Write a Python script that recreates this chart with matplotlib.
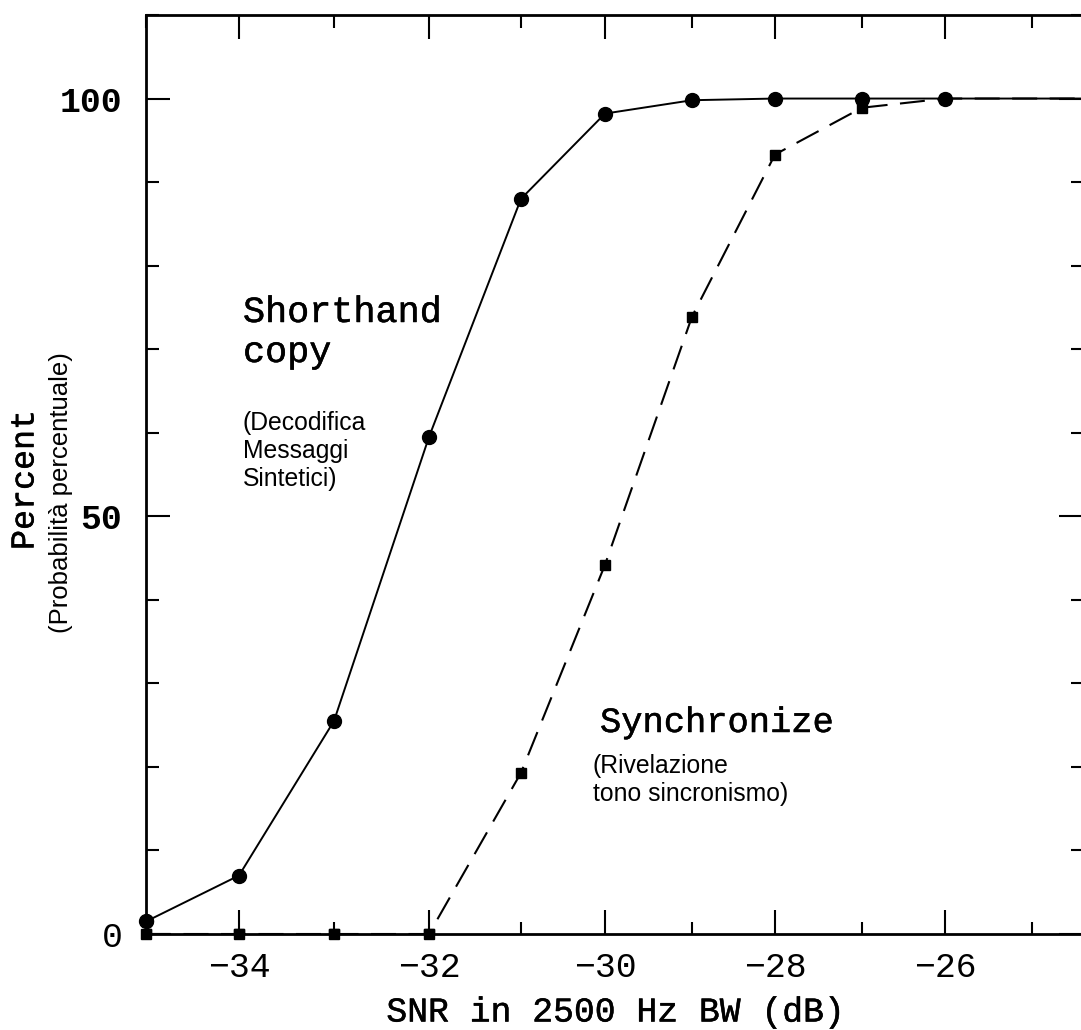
import matplotlib
matplotlib.use("Agg")
import matplotlib.pyplot as plt
import matplotlib.patheffects as pe
import numpy as np
from matplotlib.ticker import MultipleLocator, FixedLocator

# ---- data ----
snr = [-35, -34, -33, -32, -31, -30, -29, -28, -27, -26, -24]
shorthand = [1.5, 7, 25.5, 59.5, 88, 98.2, 99.8, 100, 100, 100, 100]
synchronize = [0, 0, 0, 0, 19.3, 44.2, 73.9, 93.3, 98.9, 100, 100]

xticks = [-34, -32, -30, -28, -26]
yticks = [0, 50, 100]

# the scanned original's x axis is slightly non-uniform: relative tick spacing
scale_vals = [-36, -35, -34, -33, -32, -31, -30, -29, -28, -27, -26, -25, -23]
scale_pos = [53, 146, 239, 334, 429, 521, 605, 692, 775, 862, 945, 1032, 1206]

W, H = 1081, 1030
fig = plt.figure(figsize=(W / 100, H / 100), dpi=100)

def fx(x):
    return x / W

def fy(y):
    return 1 - y / H

ax = fig.add_axes([fx(146), fy(934), fx(1083 - 146), (934 - 15) / H])

def fwd(x):
    return np.interp(x, scale_vals, scale_pos)

def inv(p):
    return np.interp(p, scale_pos, scale_vals)

ax.set_xscale("function", functions=(fwd, inv))
ax.set_xlim(-35, float(inv(1083)))
ax.set_ylim(0, 110)

mono = "Liberation Mono"
sans = "Liberation Sans"
thick = [pe.withStroke(linewidth=0.35, foreground="black")]

ax.plot(snr, shorthand, color="black", lw=1.4, marker="o", ms=10,
        mfc="black", mec="black", zorder=3)
ax.plot(snr, synchronize, color="black", lw=1.5, dashes=(12, 6),
        marker="s", ms=6.5, mfc="black", mec="black", zorder=3)
ax.plot(snr[:4], synchronize[:4], ls="none", marker="s", ms=6.5,
        color="black", clip_on=False, zorder=4)
ax.plot(snr[:1], shorthand[:1], ls="none", marker="o", ms=10,
        color="black", clip_on=False, zorder=4)

for s in ax.spines.values():
    s.set_linewidth(2)

ax.xaxis.set_major_locator(FixedLocator(xticks))
ax.xaxis.set_minor_locator(FixedLocator(list(range(-35, -24))))
ax.yaxis.set_major_locator(FixedLocator(yticks))
ax.yaxis.set_minor_locator(MultipleLocator(10))

ax.tick_params(which="both", direction="in", top=True, right=True, width=1.5)
ax.tick_params(which="major", length=17)
ax.tick_params(which="minor", length=9)
ax.tick_params(axis="x", which="major", pad=12)
ax.tick_params(axis="y", which="major", pad=17)

ax.set_xticklabels(["\u2212" + str(-t) for t in xticks], fontfamily=mono,
                   fontsize=25)
ax.set_yticklabels([str(t) for t in yticks], fontfamily=mono, fontsize=25)
for lab in ax.get_yticklabels():
    if lab.get_text() != "0":
        lab.set_fontweight("bold")

# axis labels
fig.text(fx(616), fy(1012), "SNR in 2500 Hz BW (dB)", fontfamily=mono,
         fontsize=25, ha="center", va="center", path_effects=thick)
fig.text(fx(25), fy(480), "Percent", fontfamily=mono, fontsize=24,
         rotation=90, ha="center", va="center", path_effects=thick)
fig.text(fx(61), fy(493), "(Probabilità percentuale)", fontfamily=sans,
         fontsize=18.5, rotation=90, ha="center", va="center")

# annotations
fig.text(fx(243), fy(322), "Shorthand", fontfamily=mono, fontsize=26.5,
         va="baseline", ha="left", path_effects=thick)
fig.text(fx(243), fy(362), "copy", fontfamily=mono, fontsize=26.5,
         va="baseline", ha="left", path_effects=thick)
for i, t in enumerate(["(Decodifica", "Messaggi", "Sintetici)"]):
    fig.text(fx(243), fy(430 + 28 * i), t, fontfamily=sans, fontsize=17.8,
             va="baseline", ha="left")

fig.text(fx(600), fy(732), "Synchronize", fontfamily=mono, fontsize=25.5,
         va="baseline", ha="left", path_effects=thick)
for i, t in enumerate(["(Rivelazione", "tono sincronismo)"]):
    fig.text(fx(593), fy(773 + 28 * i), t, fontfamily=sans, fontsize=17.8,
             va="baseline", ha="left")

fig.savefig("out.png", dpi=100)
